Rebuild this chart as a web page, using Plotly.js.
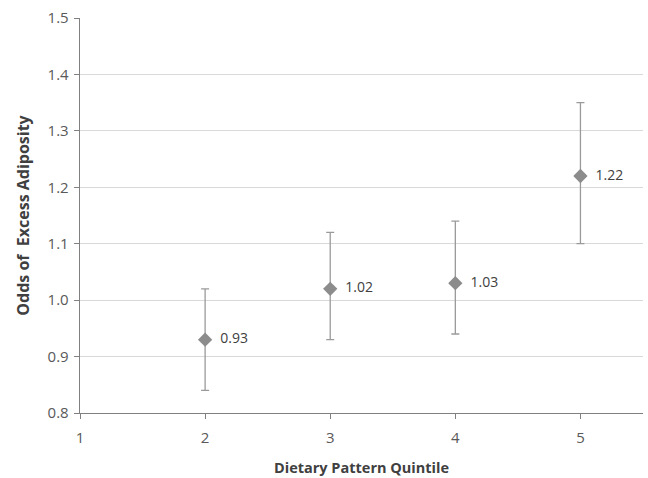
<!DOCTYPE html>
<html><head><meta charset="utf-8">
<script src="https://cdn.plot.ly/plotly-3.0.1.min.js"></script>
<style>html,body{margin:0;padding:0;background:#fff;}#chart{width:648px;height:478px;}</style>
</head><body><div id="chart"></div>
<script>
const quintiles = [2, 3, 4, 5];
const odds = [0.93, 1.02, 1.03, 1.22];
const upper = [1.02, 1.12, 1.14, 1.35];
const lower = [0.84, 0.93, 0.94, 1.10];
const labels = odds.map(v => '\u00a0\u00a0' + v.toFixed(2));
const xTicks = [1, 2, 3, 4, 5];
const yTicks = [0.8, 0.9, 1.0, 1.1, 1.2, 1.3, 1.4, 1.5];

const trace = {
  x: quintiles, y: odds, type: 'scatter', mode: 'markers+text',
  text: labels, textposition: 'middle right',
  textfont: {family: 'Open Sans, sans-serif', size: 14, color: '#404040'},
  marker: {symbol: 'diamond', size: 11, color: '#8c8c8c'},
  error_y: {type: 'data', symmetric: false,
    array: upper.map((u, i) => u - odds[i]),
    arrayminus: odds.map((o, i) => o - lower[i]),
    color: '#9a9a9a', thickness: 1.3, width: 4},
  cliponaxis: false, hoverinfo: 'none'
};
const layout = {
  width: 648, height: 478,
  margin: {l: 80, r: 5, t: 18, b: 65},
  paper_bgcolor: '#fff', plot_bgcolor: '#fff',
  showlegend: false,
  font: {family: 'Open Sans, sans-serif', color: '#595959'},
  xaxis: {range: [1, 5.5], tickvals: xTicks, ticktext: xTicks.map(String),
    showgrid: false, zeroline: false, showline: true, linecolor: '#808080', linewidth: 1.3,
    ticks: 'outside', ticklen: 5, tickcolor: '#808080', tickfont: {size: 15, color: '#595959'},
    ticklabelstandoff: 6,
    title: {text: 'Dietary Pattern Quintile', font: {size: 14.5, color: '#404040', family: 'Open Sans, sans-serif', weight: 'bold'}, standoff: 16}},
  yaxis: {range: [0.8, 1.5], tickvals: yTicks, ticktext: yTicks.map(v => v.toFixed(1)),
    showgrid: true, gridcolor: '#d9d9d9', gridwidth: 1, zeroline: false,
    showline: true, linecolor: '#808080', linewidth: 1.3,
    ticks: 'outside', ticklen: 5, tickcolor: '#808080', tickfont: {size: 15, color: '#595959'},
    ticklabelstandoff: 2,
    title: {text: 'Odds of\u00a0\u00a0Excess Adiposity', font: {size: 16, color: '#404040', family: 'Open Sans, sans-serif', weight: 'bold'}, standoff: 14}}
};
Plotly.newPlot('chart', [trace], layout, {displayModeBar: false, staticPlot: true});
</script></body></html>
